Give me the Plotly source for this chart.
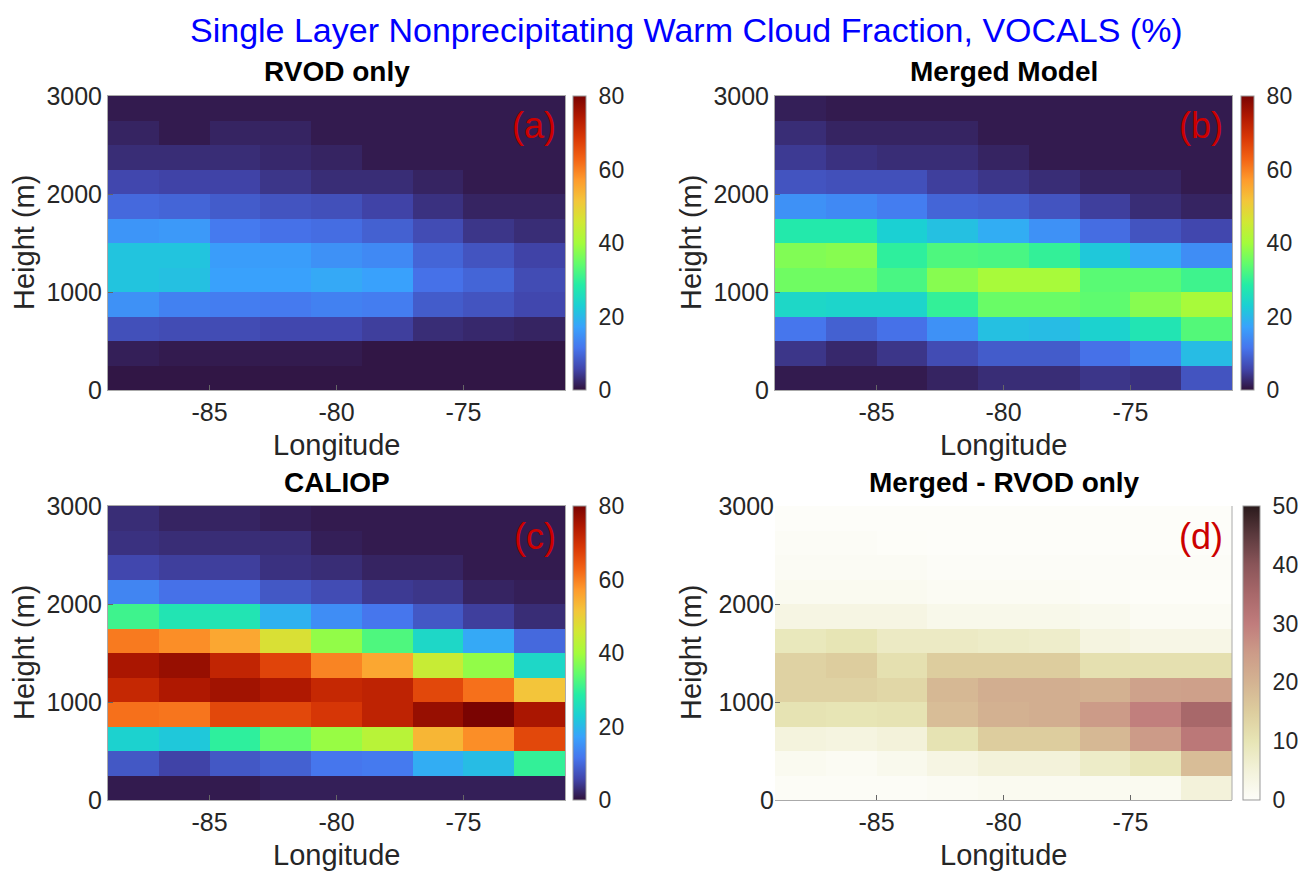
import plotly.graph_objects as go

W, H = 1298, 871

lon = [-88, -86, -84, -82, -80, -78, -76, -74, -72]
height = [125, 375, 625, 875, 1125, 1375, 1625, 1875, 2125, 2375, 2625, 2875]
lon_ticks = [-85, -80, -75]
lon_ticklabels = ["-85", "-80", "-75"]
height_ticks = [0, 1000, 2000, 3000]

# rows listed bottom (125 m) to top (2875 m)
rvod = [
    [0.5, 0.5, 0.5, 0.5, 0.5, 0.5, 0.5, 0.5, 0.5],
    [1.5, 1, 1, 1, 1, 0.5, 0.5, 0.5, 0.5],
    [7, 6.5, 6.5, 6, 6, 5, 3, 2.5, 2],
    [15, 13, 12.5, 12, 13, 12.5, 8.5, 7.5, 6],
    [21.5, 21, 17, 17, 18, 17, 11, 9.5, 6.5],
    [21.5, 21.5, 16.5, 16.5, 15, 14, 9.5, 7.5, 5.5],
    [15.5, 16, 12, 11, 10.5, 9, 6.5, 4, 3],
    [10, 9.5, 8.5, 7.5, 7, 5.5, 3.5, 2, 2],
    [6, 5.5, 5.5, 4, 3, 3, 2, 1, 1],
    [3, 3, 3, 2.5, 2, 1, 1, 1, 1],
    [2, 1, 2, 2, 1, 1, 1, 1, 1],
    [1, 1, 1, 1, 1, 1, 1, 1, 1],
]

merged = [
    [1, 1, 1, 2, 3, 3, 4, 3.5, 7.5],
    [4, 2.5, 4, 6.5, 8.5, 8.5, 11, 13.5, 20.5],
    [11.5, 9, 11, 15, 21, 20.5, 23.5, 27, 33],
    [24.5, 24, 24, 30, 35, 35, 34, 37.5, 40.5],
    [35.5, 35.5, 32, 37.5, 40.5, 40.5, 33.5, 33.5, 31],
    [37, 37.5, 29.5, 32.5, 32, 30, 22, 18, 14.5],
    [28, 28, 23, 21, 18.5, 15, 10.5, 7.5, 6],
    [15, 14, 12.5, 9.5, 9, 7.5, 5, 3, 2],
    [7.5, 7, 7, 5, 4, 3, 2, 2, 1],
    [4.5, 3.5, 3, 3, 2, 1, 1, 1, 1],
    [3, 2, 2, 2, 1, 1, 1, 1, 1],
    [1.5, 1, 1, 1, 1, 1, 1, 1, 1],
]

caliop = [
    [1, 1, 1, 1.5, 1.5, 1.5, 1.5, 1.5, 1.5],
    [8, 5.5, 8, 9, 11.5, 12, 18.5, 20.5, 30],
    [23.5, 22, 29.5, 34.5, 39, 42.5, 53.5, 58.5, 66.5],
    [61.5, 61, 66.5, 66.5, 69, 72.5, 77, 80, 75],
    [71.5, 74.5, 76, 74.5, 71.5, 72.5, 66.5, 61.5, 51.5],
    [75, 77, 72, 67, 59.5, 55.5, 44.5, 38.5, 24.5],
    [60.5, 58.5, 55.5, 47, 38.5, 32.5, 24.5, 18, 10],
    [31, 27, 27, 19, 14.5, 11.5, 8, 5, 3],
    [13.5, 11, 11, 8, 6.5, 4.5, 4, 2, 1.5],
    [6, 5, 5, 3.5, 3, 2, 2, 1, 1],
    [3.5, 3, 3, 3, 1.5, 1, 1, 1, 1],
    [3, 2, 2, 1.5, 1, 1, 1, 1, 1],
]

diff = [
    [0.5, 0.5, 0.5, 1, 1.5, 1.5, 1.5, 1.5, 5],
    [1.5, 1, 2, 3.5, 5, 5, 7.5, 9.5, 18],
    [4.5, 4, 5, 10.5, 15, 15, 19, 25, 31],
    [10.5, 10, 10.5, 18, 20.5, 21, 25, 29.5, 35],
    [14, 14, 13, 19, 21, 21, 20.5, 23.5, 24],
    [14, 15, 11, 15, 15, 15, 11, 11, 11],
    [9, 10, 8, 8, 7.5, 7, 4, 3, 3],
    [3.5, 3.5, 3.5, 2.5, 2.5, 2.5, 2, 1, 1],
    [1.5, 1.5, 1.5, 1, 1, 1, 0.5, 0.2, 0.2],
    [0.8, 0.8, 0.8, 0.3, 0.3, 0.3, 0.3, 0.3, 0.3],
    [0.5, 0.5, 0.2, 0, 0, 0, 0, 0, 0],
    [0, 0, 0, 0, 0, 0, 0, 0, 0],
]

panel_titles = ["RVOD only", "Merged Model", "CALIOP", "Merged - RVOD only"]
panel_tags = ["(a)", "(b)", "(c)", "(d)"]
main_title = "Single Layer Nonprecipitating Warm Cloud Fraction, VOCALS (%)"

diff_scale = [
    [0.0, "#fdfdf9"], [0.1, "#f3f2da"], [0.2, "#e7e5b5"], [0.3, "#ddcd9e"],
    [0.4, "#d4b392"], [0.5, "#cc9b88"], [0.6, "#c07c7c"], [0.7, "#a8686a"],
    [0.8, "#8a5559"], [0.9, "#5c3a3e"], [1.0, "#2a1a1c"],
]

FONT = "Liberation Sans, Arial, Helvetica, sans-serif"
TXT = "#262626"

def px(x):
    return x / W

def py(y):
    return 1 - y / H

# plot areas in pixels (left, right, top, bottom)
boxes = [
    (108, 565, 96, 390),
    (775, 1232, 96, 390),
    (108, 565, 506, 800),
    (775, 1232, 506, 800),
]
cbars = [(573, 13, 80, 20), (1241, 13, 80, 20), (573, 13, 80, 20), (1243, 17, 50, 10)]

fig = go.Figure()
datasets = [rvod, merged, caliop, diff]
for i, z in enumerate(datasets):
    l, r, t, b = boxes[i]
    cx, th, zmax, dt = cbars[i]
    sfx = "" if i == 0 else str(i + 1)
    fig.add_trace(go.Heatmap(
        x=lon, y=height, z=z,
        xaxis="x" + sfx, yaxis="y" + sfx,
        colorscale="Turbo" if i < 3 else diff_scale,
        zmin=0, zmax=zmax,
        colorbar=dict(
            x=px(cx), xanchor="left", y=py(b), yanchor="bottom",
            len=(b - t) / H, lenmode="fraction", thickness=th, thicknessmode="pixels",
            outlinecolor="#999999", outlinewidth=1,
            tickmode="linear", tick0=0, dtick=dt,
            ticks="outside", ticklen=8, tickcolor="rgba(0,0,0,0)",
            tickfont=dict(size=23, color=TXT, family=FONT),
            xpad=0, ypad=0,
        ),
    ))
    mirror = i < 3
    fig.layout["xaxis" + sfx] = dict(
        domain=[px(l), px(r)], anchor="y" + sfx, range=[-89, -71],
        tickvals=lon_ticks, ticktext=lon_ticklabels,
        ticks="inside", ticklen=5, tickcolor="#666666",
        showline=True, linecolor="#aaaaaa", linewidth=1, mirror=mirror,
        showgrid=False, zeroline=False, automargin=False,
        tickfont=dict(size=25, color=TXT, family=FONT),
    )
    fig.layout["yaxis" + sfx] = dict(
        domain=[py(b), py(t)], anchor="x" + sfx, range=[0, 3000],
        tickvals=height_ticks, ticks="inside", ticklen=5, tickcolor="#666666",
        showline=mirror, linecolor="#aaaaaa", linewidth=1, mirror=mirror,
        showgrid=False, zeroline=False, automargin=False,
        tickfont=dict(size=25, color=TXT, family=FONT),
    )

# right edge line for panel (d)
fig.add_shape(type="line", xref="x4 domain", yref="y4 domain",
              x0=1, x1=1, y0=0, y1=1, line=dict(color="#aaaaaa", width=1))

ann = []
ann.append(dict(text=main_title, x=px(686), y=py(30), xref="paper", yref="paper",
                showarrow=False, font=dict(size=34, color="#0000ff", family=FONT),
                xanchor="center", yanchor="middle"))
title_pos = [(337, 72), (1004, 72), (337, 482), (1004, 482)]
for i in range(4):
    l, r, t, b = boxes[i]
    ann.append(dict(text="<b>%s</b>" % panel_titles[i], x=px(title_pos[i][0]), y=py(title_pos[i][1]),
                    xref="paper", yref="paper", showarrow=False,
                    font=dict(size=28, color="#000000", family=FONT),
                    xanchor="center", yanchor="middle"))
    ann.append(dict(text=panel_tags[i], x=px(r - 7), y=py(t + 30), xref="paper", yref="paper",
                    showarrow=False, font=dict(size=36, color="#cc0000", family=FONT),
                    xanchor="right", yanchor="middle"))
    ann.append(dict(text="Longitude", x=px((l + r) / 2), y=py(b + 55), xref="paper", yref="paper",
                    showarrow=False, font=dict(size=29, color=TXT, family=FONT),
                    xanchor="center", yanchor="middle"))
    ann.append(dict(text="Height (m)", x=px(l - 84), y=py((t + b) / 2), xref="paper", yref="paper",
                    showarrow=False, textangle=-90, font=dict(size=29, color=TXT, family=FONT),
                    xanchor="center", yanchor="middle"))

fig.update_layout(
    width=W, height=H, margin=dict(l=0, r=0, t=0, b=0, autoexpand=False),
    paper_bgcolor="white", plot_bgcolor="white",
    annotations=ann, font=dict(family=FONT, color=TXT),
)

fig.write_html("out.html", config={"displayModeBar": False},
               post_script="document.body.style.margin='0px';")
